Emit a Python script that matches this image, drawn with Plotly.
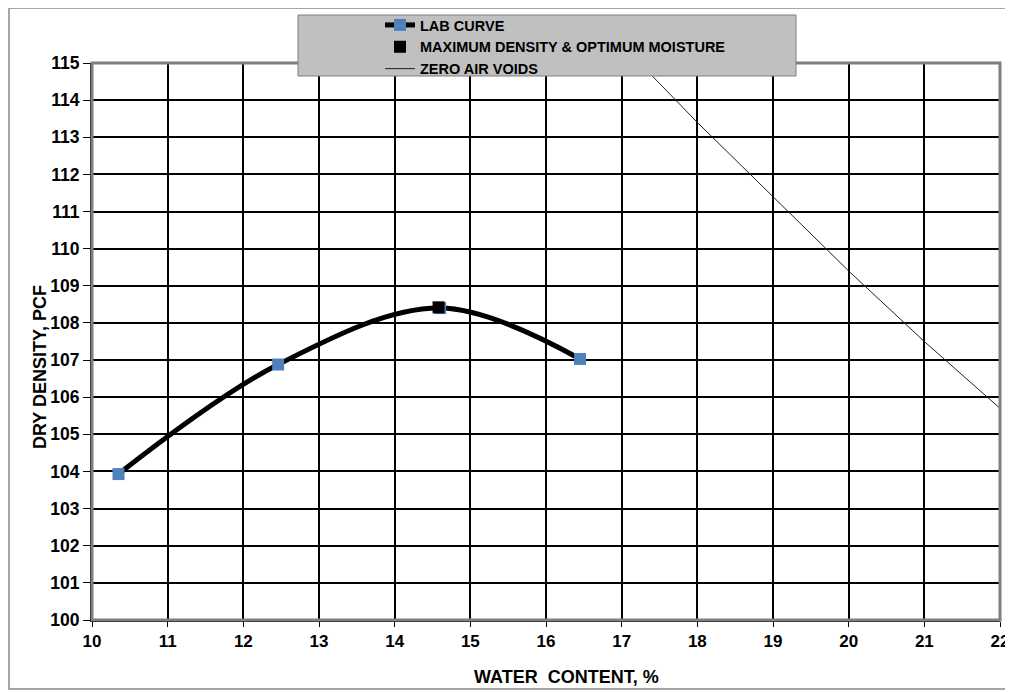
import plotly.graph_objects as go

# Lab compaction points
lab_water = [10.35, 12.46, 14.6, 16.45]
lab_density = [103.93, 106.88, 108.4, 107.03]

# Maximum density & optimum moisture
max_water = [14.58]
max_density = [108.42]

# Zero air voids line
zav_water = [17, 18, 19, 20, 21, 22]
zav_density = [115.5, 113.4, 111.4, 109.4, 107.5, 105.7]

x_ticks = list(range(10, 23))
y_ticks = list(range(100, 116))

FONT = "Liberation Sans, Arial, Helvetica, sans-serif"
OFF = 8  # page body margin
W, H = 1013 - OFF, 692 - OFF
# plot area in page pixels: left 92, right 1000, top 63, bottom 620
L, T = 92 - OFF, 63 - OFF
R = W - (1000 - OFF)
B = H - (620 - OFF)
pw, ph = W - L - R, H - T - B


def px_x(p):
    """page pixel x -> paper"""
    return (p - OFF - L) / pw


def px_y(p):
    """page pixel y -> paper"""
    return (H - B - (p - OFF)) / ph


fig = go.Figure()

fig.add_trace(go.Scatter(
    x=zav_water, y=zav_density, mode="lines", name="<b>ZERO AIR VOIDS</b>",
    line=dict(color="#202020", width=1), legendrank=3))

fig.add_trace(go.Scatter(
    x=lab_water, y=lab_density, mode="lines+markers", name="<b>LAB CURVE</b>",
    line=dict(color="black", width=5, shape="spline", smoothing=1),
    marker=dict(symbol="square", size=12, color="#4F81BD"), legendrank=1))

fig.add_trace(go.Scatter(
    x=max_water, y=max_density, mode="markers",
    name="<b>MAXIMUM DENSITY & OPTIMUM MOISTURE</b>",
    marker=dict(symbol="square", size=12, color="black"), legendrank=2))

shapes = [
    # outer frame
    dict(type="rect", xref="paper", yref="paper",
         x0=px_x(9), x1=px_x(1011), y0=px_y(689), y1=px_y(8),
         line=dict(color="#a6a6a6", width=2), fillcolor="rgba(0,0,0,0)",
         layer="below"),
    # plot area frame (top/right gray)
    dict(type="rect", xref="paper", yref="paper", x0=0, x1=1, y0=0, y1=1,
         line=dict(color="#7f7f7f", width=3), fillcolor="rgba(0,0,0,0)",
         layer="above"),
    # legend box
    dict(type="rect", xref="paper", yref="paper",
         x0=px_x(298), x1=px_x(796), y0=px_y(76), y1=px_y(15),
         line=dict(color="#7f7f7f", width=1), fillcolor="#c0c0c0",
         layer="above"),
]

annotations = [
    dict(text="<b>WATER  CONTENT, %</b>", xref="paper", yref="paper",
         x=px_x(566), y=px_y(677), showarrow=False,
         font=dict(family=FONT, size=18, color="black"),
         xanchor="center", yanchor="middle"),
    dict(text="<b>DRY DENSITY, PCF</b>", xref="paper", yref="paper",
         x=px_x(40), y=px_y(367), showarrow=False, textangle=-90,
         font=dict(family=FONT, size=18, color="black"),
         xanchor="center", yanchor="middle"),
]

fig.update_layout(
    template="none",
    width=W, height=H,
    margin=dict(l=L, r=R, t=T, b=B, pad=0, autoexpand=False),
    paper_bgcolor="white", plot_bgcolor="white",
    font=dict(family=FONT, color="black"),
    shapes=shapes, annotations=annotations,
    showlegend=True,
    legend=dict(
        x=px_x(380), y=px_y(9), xanchor="left", yanchor="top",
        bgcolor="rgba(0,0,0,0)", borderwidth=0,
        font=dict(family=FONT, size=14.5, color="black"),
        tracegroupgap=0,
    ),
    xaxis=dict(
        range=[10, 22], tickvals=x_ticks,
        ticktext=[f"<b>{v}</b>" for v in x_ticks],
        showgrid=True, gridcolor="black", gridwidth=2,
        showline=True, linecolor="black", linewidth=2,
        ticks="outside", ticklen=5, tickcolor="black",
        tickfont=dict(family=FONT, size=17, color="black"),
        zeroline=False, fixedrange=True, automargin=False,
    ),
    yaxis=dict(
        range=[100, 115], tickvals=y_ticks,
        ticktext=[f"<b>{v}</b>" for v in y_ticks],
        showgrid=True, gridcolor="black", gridwidth=2,
        showline=True, linecolor="black", linewidth=2,
        ticks="outside", ticklen=7, tickcolor="black",
        tickfont=dict(family=FONT, size=17.5, color="black"),
        zeroline=False, fixedrange=True, automargin=False,
    ),
)

fig.write_html("out.html")
